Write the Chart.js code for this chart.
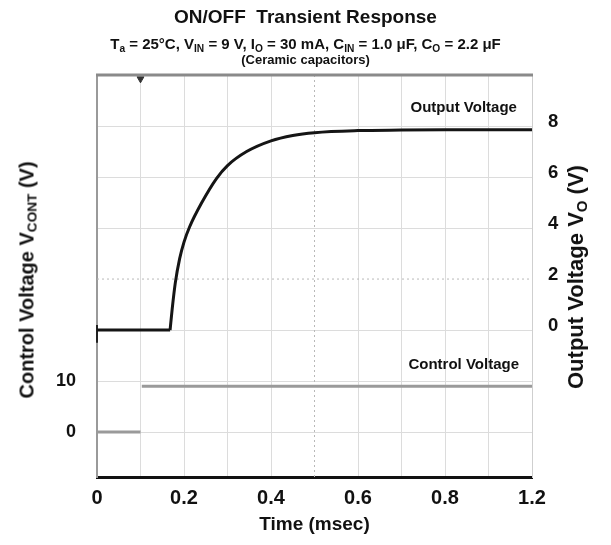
<!DOCTYPE html>
<html>
<head>
<meta charset="utf-8">
<script src="https://cdn.jsdelivr.net/npm/chart.js@4.4.0/dist/chart.umd.min.js"></script>
<style>
    body { margin: 0; background: #fff; }
    #wrap { position: relative; width: 611px; height: 545px; font-family: "Liberation Sans", Arial, sans-serif; font-weight: bold; color: #111; }
    #chart { position: absolute; left: 0; top: 0; }
    .title { position: absolute; left: 0; width: 611px; text-align: center; white-space: nowrap; }
    .ytitle { position: absolute; white-space: nowrap; transform: translate(-50%, -50%) rotate(-90deg); }
    sub { font-size: 68%; vertical-align: baseline; position: relative; top: 0.25em; }
</style>
</head>
<body>
<div id="wrap">
    <canvas id="chart" width="611" height="545"></canvas>
    <div class="title" style="top:6px; font-size:19px; line-height:22px;">ON/OFF&nbsp; Transient Response</div>
    <div class="title" style="top:36px; font-size:15px; line-height:16px;">T<sub>a</sub> = 25°C, V<sub>IN</sub> = 9 V, I<sub>O</sub> = 30 mA, C<sub>IN</sub> = 1.0 μF, C<sub>O</sub> = 2.2 μF</div>
    <div class="title" style="top:52px; font-size:13px; line-height:16px;">(Ceramic capacitors)</div>
    <div class="ytitle" style="left:27px; top:280px; font-size:20px;">Control Voltage V<sub>CONT</sub> (V)</div>
    <div class="ytitle" style="left:576px; top:277px; font-size:22px;">Output Voltage V<sub>O</sub> (V)</div>
</div>
<script>
// 出力電圧 (msec, V)
const outTime = [0, 0.168, 0.173, 0.180, 0.190, 0.200, 0.213, 0.240, 0.275, 0.300, 0.344, 0.400, 0.450, 0.500, 0.600, 0.700, 0.800, 1.000];
const outVolt = [0, 0, 0.85, 1.85, 2.8, 3.45, 4.05, 4.97, 5.95, 6.45, 7.0, 7.42, 7.63, 7.74, 7.82, 7.84, 7.85, 7.85];
// コントロール電圧
const ctrlTime = [0, 0.1, 0.1, 0.103, 1.0];
const ctrlVolt = [0, 0, null, 9, 9];
// マーカー
const markTime = [0, 0];
const markVolt = [0.2, -0.5];
const trigTime = [0.1];
const trigVolt = [9.85];
// 目盛り
const xTickLabels = ["0", "0.2", "0.4", "0.6", "0.8", "1.2"];
const outGrid = [-4, -2, 0, 2, 4, 6, 8, 10];
const outTicks = [0, 2, 4, 6, 8];
const ctrlGrid = [0, 10];
const ctrlTicks = [0, 10];
const labels = [
    { text: "Output Voltage", x: 0.843, y: 8.7 },
    { text: "Control Voltage", x: 0.843, y: -1.38 }
];

const FONT = '"Liberation Sans", Arial, sans-serif';
const pts = (xs, ys) => xs.map((x, i) => ({ x: x, y: ys[i] }));
const near = (a, b) => Math.abs(a - b) < 1e-6;

const scopeExtras = {
    id: "scopeExtras",
    beforeDatasetsDraw(chart) {
        const { ctx, chartArea: a, scales } = chart;
        const cx = scales.x.getPixelForValue(0.5);
        const cy = scales.yOut.getPixelForValue(2);
        ctx.save();
        ctx.strokeStyle = "#b8b8b8";
        ctx.lineWidth = 1;
        ctx.setLineDash([2, 3]);
        ctx.beginPath();
        ctx.moveTo(cx, a.top);
        ctx.lineTo(cx, a.bottom);
        ctx.moveTo(a.left, cy);
        ctx.lineTo(a.right, cy);
        ctx.stroke();
        ctx.restore();
    },
    afterDraw(chart) {
        const { ctx, chartArea: a, scales } = chart;
        ctx.save();
        ctx.strokeStyle = "#8a8a8a";
        ctx.lineWidth = 3;
        ctx.beginPath();
        ctx.moveTo(a.left - 1, a.top);
        ctx.lineTo(a.right + 1, a.top);
        ctx.stroke();
        ctx.fillStyle = "#111";
        ctx.font = "bold 15px " + FONT;
        ctx.textAlign = "center";
        ctx.textBaseline = "middle";
        labels.forEach(l => {
            ctx.fillText(l.text, scales.x.getPixelForValue(l.x), scales.yOut.getPixelForValue(l.y));
        });
        ctx.restore();
    }
};

new Chart("chart", {
    type: "line",
    data: {
        datasets: [{
            label: "Output Voltage (off)",
            data: pts(outTime.slice(0, 2), outVolt.slice(0, 2)),
            borderColor: "#151515",
            borderWidth: 3,
            yAxisID: "yOut"
        },
        {
            label: "Output Voltage",
            data: pts(outTime.slice(1), outVolt.slice(1)),
            borderColor: "#151515",
            borderWidth: 3,
            cubicInterpolationMode: "monotone",
            yAxisID: "yOut"
        },
        {
            label: "Control Voltage",
            data: pts(ctrlTime, ctrlVolt),
            borderColor: "#9a9a9a",
            borderWidth: 3,
            spanGaps: false,
            yAxisID: "yCtrl"
        },
        {
            label: "Ch marker",
            data: pts(markTime, markVolt),
            borderColor: "#222",
            borderWidth: 2,
            clip: false,
            yAxisID: "yOut"
        },
        {
            label: "Trigger",
            data: pts(trigTime, trigVolt),
            showLine: false,
            pointStyle: "triangle",
            rotation: 180,
            pointRadius: 4,
            backgroundColor: "#333",
            borderColor: "#333",
            clip: false,
            yAxisID: "yOut"
        }]
    },
    options: {
        responsive: false,
        animation: false,
        layout: { padding: { top: 75, left: 0, right: 0, bottom: 0 } },
        elements: { point: { radius: 0 }, line: { tension: 0 } },
        plugins: { legend: { display: false }, tooltip: { enabled: false } },
        scales: {
            x: {
                type: "linear",
                min: 0,
                max: 1.0,
                border: { color: "#111", width: 3 },
                grid: {
                    color: c => (c.tick && near(c.tick.value, 0.5)) ? "rgba(0,0,0,0)" : "#dcdcdc",
                    drawTicks: false
                },
                ticks: {
                    stepSize: 0.1,
                    autoSkip: false,
                    maxRotation: 0,
                    padding: 9,
                    color: "#111",
                    font: { family: FONT, size: 20, weight: "bold" },
                    callback: (v, i) => i % 2 === 0 ? xTickLabels[i / 2] : ""
                },
                title: {
                    display: true,
                    text: "Time (msec)",
                    color: "#111",
                    font: { family: FONT, size: 19, weight: "bold" },
                    padding: { top: 9, bottom: 9 }
                },
                afterFit: s => { s.height = 68; }
            },
            yCtrl: {
                type: "linear",
                position: "left",
                min: -8.8,
                max: 70,
                border: { color: "#9a9a9a", width: 2 },
                grid: { drawOnChartArea: false, drawTicks: false },
                afterBuildTicks: s => { s.ticks = ctrlGrid.map(v => ({ value: v })); },
                ticks: {
                    padding: 21,
                    color: "#111",
                    font: { family: FONT, size: 18, weight: "bold" },
                    callback: v => ctrlTicks.includes(v) ? String(v) : ""
                },
                afterFit: s => { s.width = 97; }
            },
            yOut: {
                type: "linear",
                position: "right",
                min: -5.76,
                max: 10,
                border: { color: "#cfcfcf", width: 1 },
                grid: {
                    color: c => (c.tick && near(c.tick.value, 2)) ? "rgba(0,0,0,0)" : "#dcdcdc",
                    drawTicks: false
                },
                afterBuildTicks: s => { s.ticks = outGrid.map(v => ({ value: v })); },
                ticks: {
                    padding: 16,
                    labelOffset: -4,
                    color: "#111",
                    font: { family: FONT, size: 18.5, weight: "bold" },
                    callback: v => outTicks.includes(v) ? String(v) : ""
                },
                afterFit: s => { s.width = 79; }
            }
        }
    },
    plugins: [scopeExtras]
});
</script>
</body>
</html>
